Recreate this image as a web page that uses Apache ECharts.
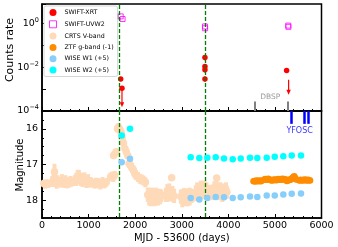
<!DOCTYPE html>
<html><head><meta charset="utf-8">
<script src="https://cdn.jsdelivr.net/npm/echarts@6/dist/echarts.min.js"></script>
<style>html,body{margin:0;padding:0;background:#fff}#c{width:338px;height:247px}</style>
</head><body><div id="c"></div>
<script>
// ---------- data ----------
const xrtMjd  = [1689, 1717, 3498, 3498, 3498, 3498, 5251];
const xrtRate = [2.9e-3, 1.1e-3, 0.028, 0.011, 7.7e-3, 2.9e-3, 7.1e-3];
const xrtLow  = [2.3e-3, 1.1e-3, 0.021, 0.0085, 5.8e-3, 2.2e-3, 5.6e-3];
const xrtHigh = [3.6e-3, 1.1e-3, 0.036, 0.014, 0.010, 3.8e-3, 8.8e-3];
const xrtUlMjd  = [1717, 5294];
const xrtUlFrom = [1.1e-3, 2.7e-3];
const xrtUlTo   = [1.5e-4, 5.5e-4];

const uvw2Mjd  = [1690, 1730, 3498, 3502, 5286, 5290];
const uvw2Rate = [2.17, 1.64, 0.75, 0.62, 0.82, 0.72];

const crtsMjd = [40,70,100,135, 225,250,268,290,315,330,
  400,430,465,500,540,580,610,630,
  705,735,765,790,830,870,910,950,990,1025,1050,
  1120,1160,1200,1250,1300,1340,1380,
  1470,1500,1530,1560, 1535,1565,1595,
  1620,1640,1660,1680,1700, 1720,1750,1780,1810,1840,
  1870,1900,1930,1960,1990,2020,2060,2100,2140,2180,2220,
  2270,2300,2330,2370,2410,2450,2490,2530,2560,
  2660,2690,2730,2783,2800,2835,
  2980,3010,3050,3090,3130,3170,3210,3235,
  3300,3330,3370,3410,3450,3490,3530,3570,3595,
  3665,3700,3740,3750,3790,3830,3870,3910,3950,3970];
const crtsMag = [17.53,17.56,17.52,17.55, 17.48,17.4,17.2,17.45,17.5,17.45,
  17.5,17.45,17.5,17.48,17.52,17.5,17.47,17.5,
  17.45,17.42,17.35,17.3,17.42,17.45,17.4,17.48,17.45,17.5,17.48,
  17.55,17.52,17.5,17.55,17.5,17.55,17.5,
  17.35,17.32,17.35,17.3, 16.75,16.7,16.65,
  16.0,15.95,16.0,16.05,16.1, 16.25,16.4,16.55,16.65,16.75,
  16.98,17.02,17.1,17.15,17.25,17.3,17.35,17.4,17.42,17.45,17.5,
  17.85,17.9,17.95,17.9,17.95,17.9,17.95,17.9,17.88,
  17.85,17.8,17.78,17.37,17.82,17.88,
  17.9,17.95,17.88,17.92,17.95,17.9,17.88,17.9,
  17.8,17.75,17.78,17.7,17.75,17.7,17.75,17.8,17.75,
  17.78,17.72,17.7,17.38,17.75,17.72,17.8,17.75,17.72,17.78];
const crtsErr = [0.1,0.12,0.1,0.1, 0.15,0.18,0.22,0.18,0.18,0.15,
  0.15,0.18,0.15,0.18,0.15,0.15,0.15,0.12,
  0.15,0.18,0.2,0.15,0.18,0.18,0.18,0.18,0.18,0.15,0.12,
  0.12,0.15,0.12,0.15,0.15,0.12,0.12,
  0.12,0.12,0.14,0.12, 0.1,0.12,0.1,
  0.1,0.1,0.12,0.1,0.1, 0.1,0.12,0.12,0.1,0.1,
  0.12,0.12,0.14,0.12,0.14,0.14,0.14,0.14,0.14,0.14,0.14,
  0.2,0.25,0.22,0.25,0.22,0.25,0.2,0.22,0.18,
  0.2,0.25,0.25,0.05,0.22,0.2,
  0.2,0.25,0.22,0.25,0.22,0.25,0.2,0.15,
  0.22,0.25,0.25,0.25,0.22,0.25,0.25,0.22,0.18,
  0.22,0.25,0.25,0.05,0.25,0.22,0.25,0.22,0.22,0.18];

const ztfMjd = [4540,4560,4580,4600,4620,4640,4660,4680,4700,4720,
  4775,4795,4815,4835,4855,4875,4895,4915,4935,4955,4975,4995,5015,5035,5055,5075,5095,5115,5135,5155,5175,5195,5215,5235,
  5255,5275,5295,5315,5335,5355,5375,5395,5415,5435,5455,
  5515,5535,5555,5575,5595,5615,5635,5655,5675,5695,5715,5735,5755];
const ztfMag = [17.47,17.46,17.48,17.45,17.46,17.47,17.45,17.46,17.47,17.45,
  17.42,17.41,17.43,17.42,17.40,17.42,17.43,17.44,17.45,17.43,17.44,17.42,17.43,17.44,17.42,17.41,17.42,17.43,17.42,17.40,17.42,17.41,17.43,17.42,
  17.46,17.45,17.44,17.42,17.43,17.41,17.38,17.35,17.33,17.38,17.42,
  17.44,17.45,17.43,17.44,17.45,17.43,17.44,17.42,17.44,17.45,17.43,17.44,17.45];
const ztfErr = 0.03;

const wiseMjd = [1711,1889,3192,3377,3549,3729,3907,4094,4266,4465,4622,4824,4996,5180,5361,5560];
const w1Mag = [16.94,16.84,17.94,17.98,17.94,17.91,17.92,17.94,17.92,17.90,17.91,17.87,17.87,17.84,17.82,17.81];
const w2Mag = [16.19,16.00,16.80,16.82,16.81,16.80,16.83,16.85,16.83,16.81,16.82,16.81,16.78,16.77,16.75,16.75];

const dashedMjd = [1650, 3500];
const dbspMjd = [4566, 5283];
const yfoscMjd = [5348, 5620, 5713];
const magTicks = [16, 17, 18];

// ---------- chart ----------
const FONT = 'DejaVu Sans';
const chart = echarts.init(document.getElementById('c'), null, {renderer: 'canvas'});

function errBar(color, lw) {
  return function (params, api) {
    const a = api.coord([api.value(0), api.value(1)]);
    const b = api.coord([api.value(0), api.value(2)]);
    return {type: 'line', shape: {x1: a[0], y1: a[1], x2: b[0], y2: b[1]},
      style: {stroke: color, lineWidth: lw}};
  };
}
function ulArrow(params, api) {
  const a = api.coord([api.value(0), api.value(1)]);
  const b = api.coord([api.value(0), api.value(2)]);
  return {type: 'group', children: [
    {type: 'line', shape: {x1: a[0], y1: a[1], x2: b[0], y2: b[1] - 3},
      style: {stroke: '#ff0000', lineWidth: 1.2}},
    {type: 'polygon', shape: {points: [[b[0] - 2.2, b[1] - 5], [b[0] + 2.2, b[1] - 5], [b[0], b[1]]]},
      style: {fill: '#ff0000'}}
  ]};
}

const axisLineStyle = {color: '#000', width: 1.5};
const option = {
  animation: false,
  backgroundColor: '#fff',
  grid: [
    {left: 42, right: 16.5, top: 4, height: 107, show: true, borderColor: '#000', borderWidth: 1.5, backgroundColor: 'transparent'},
    {left: 42, right: 16.5, top: 111, height: 107, show: true, borderColor: '#000', borderWidth: 1.5, backgroundColor: 'transparent'}
  ],
  xAxis: [
    {type: 'value', gridIndex: 0, min: 0, max: 6000, interval: 1000,
      axisLine: {lineStyle: axisLineStyle}, axisLabel: {show: false},
      axisTick: {inside: true, length: 4, lineStyle: {color: '#000', width: 1}},
      minorTick: {show: true, splitNumber: 5, length: 2, lineStyle: {color: '#000', width: 1}},
      splitLine: {show: false}},
    {type: 'value', gridIndex: 1, min: 0, max: 6000, interval: 1000,
      axisLine: {lineStyle: axisLineStyle},
      axisTick: {inside: true, length: 4, lineStyle: {color: '#000', width: 1}},
      minorTick: {show: true, splitNumber: 5, length: 2, lineStyle: {color: '#000', width: 1}},
      splitLine: {show: false},
      axisLabel: {fontSize: 9.5, color: '#000', margin: 3, fontFamily: FONT, formatter: v => String(v)},
      name: 'MJD - 53600 (days)', nameLocation: 'middle', nameGap: 15,
      nameTextStyle: {fontSize: 10, color: '#000', fontFamily: FONT}}
  ],
  yAxis: [
    {type: 'log', logBase: 10, gridIndex: 0, min: 1e-4, max: 8,
      axisLine: {lineStyle: axisLineStyle},
      axisTick: {inside: true, length: 4, lineStyle: {color: '#000', width: 1}},
      splitLine: {show: false},
      axisLabel: {margin: 3, color: '#000', fontFamily: FONT,
        formatter: function (v) {
          const e = Math.log10(v), r = Math.round(e);
          if (Math.abs(e - r) > 1e-6 || r % 2 !== 0) return '';
          return '{b|10}{s|' + (r < 0 ? '\u2212' + (-r) : r) + '}';
        },
        rich: {b: {fontSize: 9.5, fontFamily: FONT, color: '#000', lineHeight: 12},
               s: {fontSize: 6.5, fontFamily: FONT, color: '#000', lineHeight: 12, padding: [0, 0, 7, 0]}}}},
    {type: 'value', gridIndex: 1, min: 15.5, max: 18.5, inverse: true,
      axisLine: {lineStyle: axisLineStyle},
      axisTick: {inside: true, length: 4, customValues: magTicks, lineStyle: {color: '#000', width: 1}},
      splitLine: {show: false},
      axisLabel: {customValues: magTicks, fontSize: 9.5, margin: 4, color: '#000', fontFamily: FONT}},
    {type: 'value', gridIndex: 1, min: 15.5, max: 18.5, interval: 0.25, inverse: true, position: 'left',
      axisLine: {show: false}, axisLabel: {show: false}, splitLine: {show: false},
      axisTick: {inside: true, length: 2, lineStyle: {color: '#000', width: 1}}}
  ],
  legend: {
    orient: 'vertical', left: 44, top: 6, itemWidth: 7, itemHeight: 7, itemGap: 4.3,
    padding: [3, 4, 3, 5], backgroundColor: '#fff', borderColor: '#cccccc', borderWidth: 0.8, borderRadius: 2,
    textStyle: {fontSize: 6.3, fontFamily: FONT, color: '#000', padding: [0, 0, 0, 3]},
    data: [
      {name: 'SWIFT-XRT', icon: 'circle'},
      {name: 'SWIFT-UVW2', icon: 'rect', itemStyle: {color: 'rgba(0,0,0,0)', borderColor: '#ff00ff', borderWidth: 1}},
      {name: 'CRTS V-band', icon: 'circle'},
      {name: 'ZTF g-band (-1)', icon: 'circle'},
      {name: 'WISE W1 (+5)', icon: 'circle'},
      {name: 'WISE W2 (+5)', icon: 'circle'}
    ]
  },
  graphic: [
    {type: 'text', x: 10, y: 50, rotation: Math.PI / 2,
      style: {text: 'Counts rate', fontSize: 11, fontFamily: FONT, fill: '#000', align: 'center', verticalAlign: 'middle'}},
    {type: 'text', x: 20, y: 165, rotation: Math.PI / 2,
      style: {text: 'Magnitude', fontSize: 10, fontFamily: FONT, fill: '#000', align: 'center', verticalAlign: 'middle'}}
  ],
  series: [
    // ---- lower panel ----
    {type: 'custom', xAxisIndex: 1, yAxisIndex: 1, z: 1, silent: true,
      renderItem: errBar('#FFDAB9', 4), encode: {x: 0, y: [1, 2]},
      data: crtsMjd.map((x, i) => [x, crtsMag[i] - crtsErr[i], crtsMag[i] + crtsErr[i]])},
    {name: 'CRTS V-band', type: 'scatter', xAxisIndex: 1, yAxisIndex: 1, z: 2, symbolSize: 7.5,
      itemStyle: {color: '#FFDAB9', opacity: 1},
      data: crtsMjd.map((x, i) => [x, crtsMag[i]])},
    {type: 'custom', xAxisIndex: 1, yAxisIndex: 1, z: 3, silent: true,
      renderItem: errBar('#FF8C00', 1.5), encode: {x: 0, y: [1, 2]},
      data: ztfMjd.map((x, i) => [x, ztfMag[i] - ztfErr, ztfMag[i] + ztfErr])},
    {name: 'ZTF g-band (-1)', type: 'scatter', xAxisIndex: 1, yAxisIndex: 1, z: 4, symbolSize: 6.5,
      itemStyle: {color: '#FF8C00', opacity: 1},
      data: ztfMjd.map((x, i) => [x, ztfMag[i]])},
    {type: 'scatter', xAxisIndex: 1, yAxisIndex: 1, z: 5, data: [], silent: true,
      markLine: {symbol: 'none', silent: true, animation: false, label: {show: false},
        lineStyle: {color: '#008000', type: [4, 2], width: 1.3},
        data: dashedMjd.map(x => ({xAxis: x}))}},
    {name: 'WISE W1 (+5)', type: 'scatter', xAxisIndex: 1, yAxisIndex: 1, z: 6, symbolSize: 6.5,
      itemStyle: {color: '#87CEFA', opacity: 1},
      data: wiseMjd.map((x, i) => [x, w1Mag[i]])},
    {name: 'WISE W2 (+5)', type: 'scatter', xAxisIndex: 1, yAxisIndex: 1, z: 6, symbolSize: 6.5,
      itemStyle: {color: '#00FFFF', opacity: 1},
      data: wiseMjd.map((x, i) => [x, w2Mag[i]])},
    {type: 'scatter', xAxisIndex: 1, yAxisIndex: 1, z: 7, silent: true, symbolSize: 0,
      data: [[5530, 16.05]],
      label: {show: true, position: 'inside', formatter: 'YFOSC', color: '#0000ff', fontSize: 8, fontFamily: FONT},
      markLine: {symbol: 'none', silent: true, animation: false, label: {show: false},
        lineStyle: {color: '#0000ff', type: 'solid', width: 2.5},
        data: yfoscMjd.map(x => [{coord: [x, 15.5]}, {coord: [x, 15.86]}])}},
    // ---- upper panel ----
    {type: 'scatter', xAxisIndex: 0, yAxisIndex: 0, z: 1, silent: true, symbolSize: 0,
      data: [[4900, 4.2e-4]],
      label: {show: true, position: 'inside', formatter: 'DBSP', color: '#808080', fontSize: 7.5, fontFamily: FONT},
      markLine: {symbol: 'none', silent: true, animation: false, label: {show: false},
        lineStyle: {color: '#808080', type: 'solid', width: 2},
        data: dbspMjd.map(x => [{coord: [x, 1e-4]}, {coord: [x, 2.7e-4]}])}},
    {type: 'scatter', xAxisIndex: 0, yAxisIndex: 0, z: 2, data: [], silent: true,
      markLine: {symbol: 'none', silent: true, animation: false, label: {show: false},
        lineStyle: {color: '#008000', type: [4, 2], width: 1.3},
        data: dashedMjd.map(x => ({xAxis: x}))}},
    {type: 'custom', xAxisIndex: 0, yAxisIndex: 0, z: 3, silent: true,
      renderItem: errBar('#ff0000', 1.2), encode: {x: 0, y: [1, 2]},
      data: xrtMjd.map((x, i) => [x, xrtLow[i], xrtHigh[i]])},
    {type: 'custom', xAxisIndex: 0, yAxisIndex: 0, z: 3, silent: true,
      renderItem: ulArrow, encode: {x: 0, y: [1, 2]},
      data: xrtUlMjd.map((x, i) => [x, xrtUlFrom[i], xrtUlTo[i]])},
    {name: 'SWIFT-XRT', type: 'scatter', xAxisIndex: 0, yAxisIndex: 0, z: 4, symbolSize: 5.5,
      itemStyle: {color: '#ff0000', opacity: 1},
      data: xrtMjd.map((x, i) => [x, xrtRate[i]])},
    {name: 'SWIFT-UVW2', type: 'scatter', xAxisIndex: 0, yAxisIndex: 0, z: 4, symbol: 'rect', symbolSize: 5,
      itemStyle: {color: 'rgba(0,0,0,0)', borderColor: '#ff00ff', borderWidth: 1},
      data: uvw2Mjd.map((x, i) => [x, uvw2Rate[i]])}
  ]
};
chart.setOption(option);
</script>
</body></html>
